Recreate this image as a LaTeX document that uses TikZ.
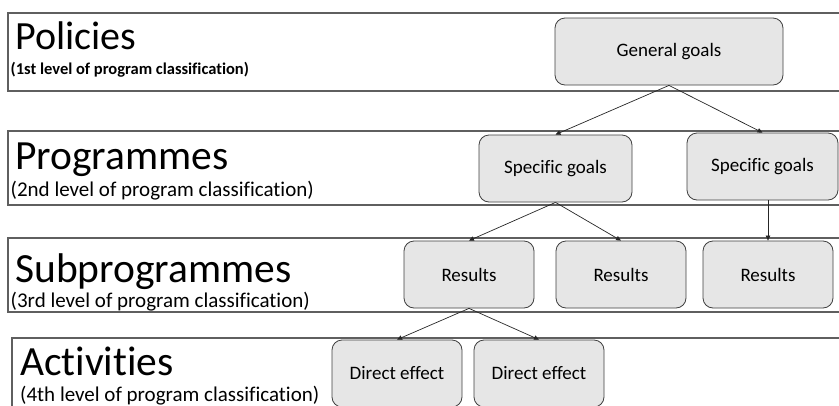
\documentclass[tikz,border=0pt]{standalone}
\usepackage{fontspec}
\setmainfont{Carlito}[Ligatures=NoCommon]
\usetikzlibrary{arrows.meta}
\definecolor{boxfill}{RGB}{230,230,230}
\definecolor{boxline}{RGB}{64,64,64}
\definecolor{bandline}{RGB}{95,95,95}
\begin{document}
\begin{tikzpicture}[x=1pt,y=-1pt,
  goalbox/.style={draw=boxline, fill=boxfill, rounded corners=10pt, line width=0.8pt,
    minimum height=67pt, inner sep=0pt, font=\fontsize{19}{22}\selectfont},
  band/.style={draw=bandline, line width=1.1pt},
  title/.style={anchor=base west, inner sep=0pt, font=\fontsize{41.5}{45}\selectfont},
  subtitle/.style={anchor=base west, inner sep=0pt, font=\fontsize{21}{24}\selectfont},
  link/.style={draw=black!85, line width=0.7pt, -{Triangle[length=5pt,width=4.5pt]}}
]
\useasboundingbox (0,0) rectangle (839,405);

% bands
\draw[band] (839,13) -- (8,13) -- (8,91) -- (839,91);
\draw[band] (839,131) -- (8,131) -- (8,205) -- (839,205);
\draw[band] (839,238) -- (8,238) -- (8,312) -- (839,312);
\draw[band] (839,338) -- (12,338) -- (12,406);

% band texts
\node[title, font=\fontsize{40}{44}\selectfont] (t1) at (15,49) {Policies};
\node[subtitle, font=\bfseries\fontsize{16.5}{19}\selectfont] (s1) at (10.5,74) {(1st level of program classification)};
\node[title] (t2) at (15,169) {Programmes};
\node[subtitle] (s2) at (10.5,196) {(2nd level of program classification)};
\node[title] (t3) at (15,282) {Subprogrammes};
\node[subtitle] (s3) at (10.5,307) {(3rd level of program classification)};
\node[title] (t4) at (20,375) {Activities};
\node[subtitle] (s4) at (20,401) {(4th level of program classification)};

% boxes
\node[goalbox, minimum width=228pt] (gg) at (669,51.5) {General goals};
\node[goalbox, minimum width=153pt] (sg1) at (555.5,168.5) {Specific goals};
\node[goalbox, minimum width=151pt] (sg2) at (762.5,166.5) {Specific goals};
\node[goalbox, minimum width=130pt] (r1) at (469,274.5) {Results};
\node[goalbox, minimum width=130pt] (r2) at (621,274.5) {Results};
\node[goalbox, minimum width=130pt] (r3) at (768,274.5) {Results};
\node[goalbox, minimum width=130pt] (de1) at (397,373.5) {Direct effect};
\node[goalbox, minimum width=130pt] (de2) at (539,373.5) {Direct effect};

% connectors
\draw[link] (gg.south) -- (sg1.north);
\draw[link] (gg.south) -- (sg2.north);
\draw[link] (sg1.south) -- (r1.north);
\draw[link] (sg1.south) -- (r2.north);
\draw[link] (r3.north |- sg2.south) -- (r3.north);
\draw[link] (r1.south) -- (de1.north);
\draw[link] (r1.south) -- (de2.north);
\end{tikzpicture}
\end{document}
